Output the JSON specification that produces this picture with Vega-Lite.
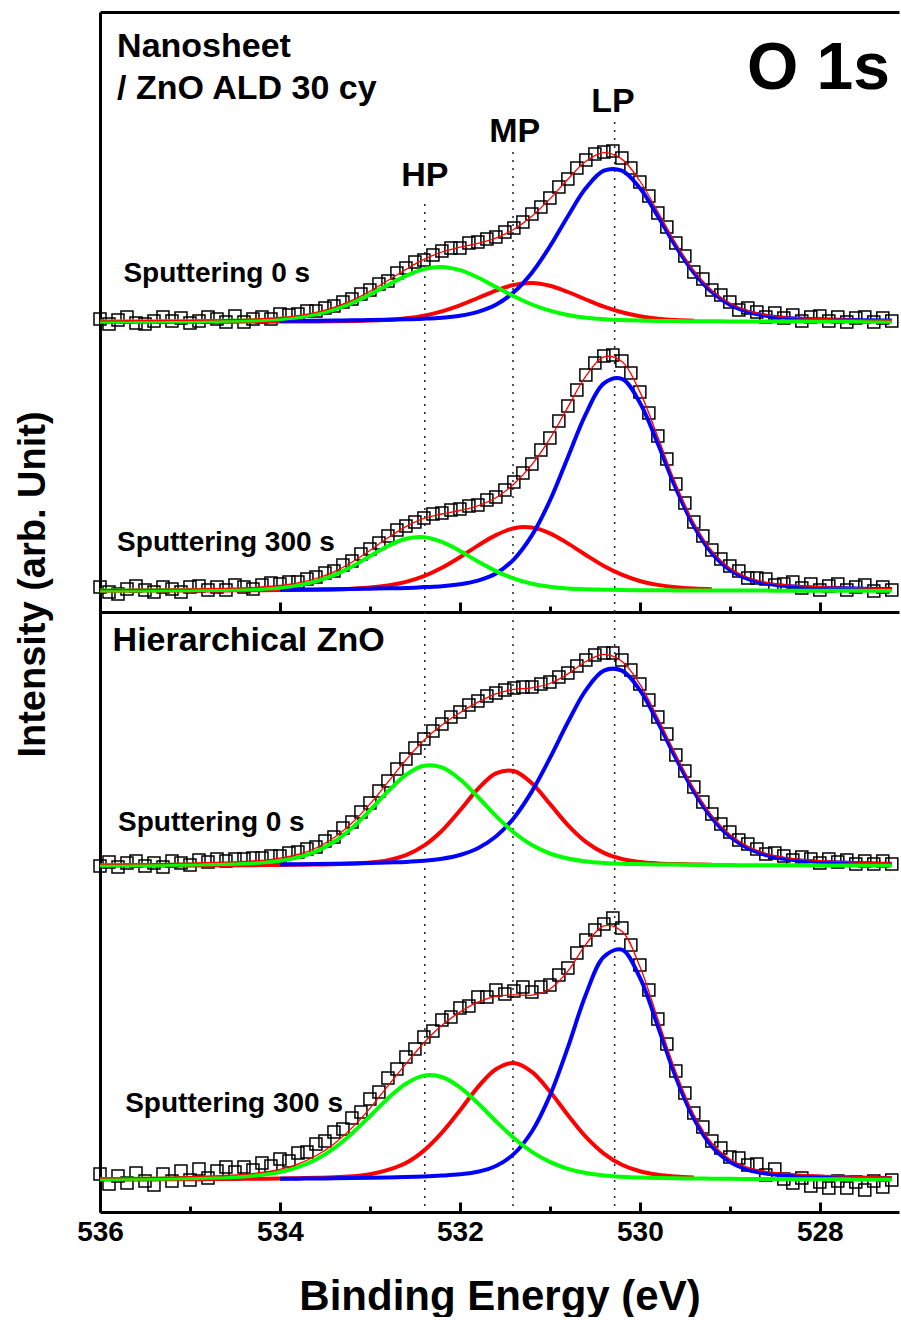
{
  "$schema": "https://vega.github.io/schema/vega-lite/v6.json",
  "background": "white",
  "padding": {"left": 14, "top": 12, "right": 0, "bottom": 0},
  "spacing": 0,
  "bounds": "flush",
  "config": {
    "view": {"stroke": null},
    "axis": {"grid": false},
    "font": "Liberation Sans"
  },
  "datasets": {
    "comp": [
      {"s": "A",
       "E": [536,535.8,535.6,535.4,535.2,535,534.8,534.6,534.4,534.2,534,533.8,533.6,533.4,533.2,533,532.8,532.6,532.4,532.2,532,531.8,531.6,531.4,531.2,531,530.8,530.6,530.4,530.2,530,529.8,529.6,529.4,529.2,529,528.8,528.6,528.4,528.2,528,527.8,527.6,527.4,527.2],
       "HP": [290.5,290.5,290.6,290.6,290.7,290.8,291,291.2,291.5,292,293,294.7,297.7,302.4,309,317.5,327.1,336.2,342.9,345,341.8,334.5,325.1,315.7,307.5,301.3,297,294.3,292.8,291.9,291.4,291.1,290.9,290.8,290.7,290.6,290.5,290.5,290.5,290.4,290.4,290.4,290.4,290.3,290.3],
       "MP": [290.2,290.2,290.2,290.2,290.2,290.3,290.3,290.3,290.4,290.4,290.5,290.5,290.6,290.8,291,291.4,292.2,293.7,296.4,300.7,306.7,314,321.4,327.1,329,326.2,320,312.5,305.3,299.7,295.7,293.3,292,291.3,null,null,null,null,null,null,null,null,null,null,null],
       "LP": [null,null,null,null,null,null,null,null,null,null,291.1,291.2,291.3,291.5,291.7,291.9,292.2,292.7,293.3,294.3,296.3,300.2,307.3,319.9,339.3,365.6,395.8,423.9,441.3,441.3,423.9,395.8,365.6,339.3,319.9,307.3,300.2,296.3,294.3,293.3,292.7,292.2,291.9,291.7,291.5],
       "Fit": [291.1,291.2,291.3,291.4,291.6,291.7,292,292.3,292.7,293.3,294.5,296.4,299.6,304.7,311.7,320.8,331.5,342.6,352.6,360,364.8,368.7,373.8,382.7,395.8,413.1,432.8,450.7,459.4,452.9,431,400.2,368.5,341.4,321.5,308.7,301.3,297.3,295.2,294.1,293.5,292.9,292.6,292.2,292]},
      {"s": "B",
       "E": [536,535.8,535.6,535.4,535.2,535,534.8,534.6,534.4,534.2,534,533.8,533.6,533.4,533.2,533,532.8,532.6,532.4,532.2,532,531.8,531.6,531.4,531.2,531,530.8,530.6,530.4,530.2,530,529.8,529.6,529.4,529.2,529,528.8,528.6,528.4,528.2,528,527.8,527.6,527.4,527.2],
       "HP": [21.4,21.5,21.5,21.6,21.7,21.8,21.9,22.1,22.4,23.1,24.3,26.6,30.6,36.8,45.5,55.8,66,73.2,74.8,70.1,61.1,50.5,40.9,33.4,28.3,25.3,23.5,22.7,22.3,22,21.8,21.7,21.6,21.5,21.5,21.4,21.4,21.4,21.3,21.3,21.3,21.3,21.3,21.2,21.2],
       "MP": [21.3,21.3,21.4,21.4,21.5,21.5,21.6,21.6,21.7,21.8,21.9,22.1,22.3,22.6,23.3,24.4,26.5,30.1,35.9,44.2,54.7,66.4,76.9,83.8,84.4,78.7,68.6,57,46.1,37.4,31,27.1,24.7,23.4,22.7,null,null,null,null,null,null,null,null,null,null],
       "LP": [null,null,null,null,null,null,null,null,null,null,22.2,22.4,22.6,22.8,23,23.3,23.7,24.1,24.9,25.7,27.7,31.3,38.5,52.7,76.6,111.3,154.8,198.2,228.7,233.1,209.3,168.2,123.7,86.1,58.9,42.2,33,28.4,26.2,25.1,24.3,23.9,23.4,23.1,22.9],
       "Fit": [22.3,22.4,22.5,22.7,22.8,23,23.3,23.7,24.1,25,26.5,29.1,33.5,40.2,49.8,61.5,74.2,85.4,93.6,98,101.5,106.2,114.3,127.9,147.3,173.3,204.9,235.9,255.1,250.5,220.1,175,128,89,61.1,43.9,34.5,29.7,27.4,26.2,25.3,24.8,24.3,23.9,23.6]},
      {"s": "C",
       "E": [536,535.8,535.6,535.4,535.2,535,534.8,534.6,534.4,534.2,534,533.8,533.6,533.4,533.2,533,532.8,532.6,532.4,532.2,532,531.8,531.6,531.4,531.2,531,530.8,530.6,530.4,530.2,530,529.8,529.6,529.4,529.2,529,528.8,528.6,528.4,528.2,528,527.8,527.6,527.4,527.2],
       "HP": [346.8,346.9,347,347.1,347.2,347.4,347.7,348,348.5,349.4,351.3,354.6,360.6,370.2,384.1,401.6,420.6,437.1,446.3,444.6,432.7,415,396.1,379.5,366.9,358.5,353.5,350.5,349.1,348.3,347.9,347.6,347.4,347.2,347,346.9,346.8,346.8,346.7,346.7,346.6,346.6,346.5,346.5,346.5],
       "MP": [346.3,346.4,346.4,346.4,346.5,346.5,346.6,346.7,346.8,346.9,347,347.2,347.4,347.8,348.4,349.4,351.8,356.8,366.3,381.3,401.5,423,438.6,441,428.7,408.1,386.9,370.1,359.1,353,350,348.6,347.9,347.5,347.3,null,null,null,null,null,null,null,null,null,null],
       "LP": [null,null,null,null,null,null,null,null,null,null,347.6,347.7,347.9,348.2,348.5,348.9,349.5,350.1,351.2,353.2,357,363.8,375.5,394.1,420.6,453.9,489.7,521.9,541.4,541.4,521.9,489.7,453.9,420.6,394.1,375.5,363.8,357,353.2,351.2,350.1,349.5,348.9,348.5,348.2],
       "Fit": [347.8,347.9,348.1,348.3,348.6,348.9,349.3,349.9,350.6,351.7,353.9,357.5,364,374.2,389,407.9,429.9,452,471.8,487.1,499.2,509.8,518.2,522.6,524.2,528.5,538.1,550.5,557.6,550.7,527.8,493.9,457.2,423.3,396.4,377.6,365.6,358.7,354.7,352.6,351.4,350.7,350,349.5,349.1]},
      {"s": "D",
       "E": [536,535.8,535.6,535.4,535.2,535,534.8,534.6,534.4,534.2,534,533.8,533.6,533.4,533.2,533,532.8,532.6,532.4,532.2,532,531.8,531.6,531.4,531.2,531,530.8,530.6,530.4,530.2,530,529.8,529.6,529.4,529.2,529,528.8,528.6,528.4,528.2,528,527.8,527.6,527.4,527.2],
       "HP": [33,33.1,33.2,33.3,33.5,33.8,34.2,34.7,35.5,37.2,40,44.8,52.5,63.7,78.5,95.8,113.6,128.3,136.4,135,124.7,108.8,90.8,74,60.2,50.1,43.2,39,36.6,35.3,34.5,34,33.7,33.5,33.3,33.2,33,33,32.9,32.8,32.7,32.7,32.6,32.6,32.6],
       "MP": [32.5,32.6,32.6,32.6,32.7,32.8,32.9,33,33.2,33.3,33.5,33.8,34.2,34.7,35.7,37.7,42.1,49,61.4,79.3,101.5,124.9,142.8,149,140.1,120.5,96.9,75.1,58.4,47.2,40.7,37.2,35.5,34.6,null,null,null,null,null,null,null,null,null,null,null],
       "LP": [null,null,null,null,null,null,null,null,null,null,33.2,33.3,33.5,33.7,33.9,34.2,34.5,34.9,35.5,36.4,37.7,40.2,46,58.1,80.5,116.4,164.7,217.6,255.2,262.3,234.3,185.8,134.8,93.5,65.6,50.1,42.2,38.5,36.8,35.8,35.2,34.7,34.3,34,33.8],
       "Fit": [34,34.2,34.4,34.6,34.9,35.3,35.9,36.5,37.6,39.6,42.7,47.9,56.2,68.1,84.1,103.7,126.2,148.2,169.3,186.7,199.9,209.9,215.6,217.1,216.8,223,240.8,267.7,286.2,280.8,245.5,193,140,97.5,69,53,44.7,40.7,38.8,37.6,36.8,36.2,35.7,35.3,35]}
    ],
    "raw": [
      {"s": "A",
       "E": [536,535.9,535.8,535.7,535.6,535.5,535.4,535.3,535.2,535.1,535,534.9,534.8,534.7,534.6,534.5,534.4,534.3,534.2,534.1,534,533.9,533.8,533.7,533.6,533.5,533.4,533.3,533.2,533.1,533,532.9,532.8,532.7,532.6,532.5,532.4,532.3,532.2,532.1,532,531.9,531.8,531.7,531.6,531.5,531.4,531.3,531.2,531.1,531,530.9,530.8,530.7,530.6,530.5,530.4,530.3,530.2,530.1,530,529.9,529.8,529.7,529.6,529.5,529.4,529.3,529.2,529.1,529,528.9,528.8,528.7,528.6,528.5,528.4,528.3,528.2,528.1,528,527.9,527.8,527.7,527.6,527.5,527.4,527.3,527.2],
       "v": [293,288,292,295,289,288,291,295,291,294,289,291,295,293,290,296,290,293,295,293,298,297,298,301,301,304,306,310,313,318,322,328,331,339,344,350,352,357,361,364,364,369,370,373,375,380,384,390,398,405,414,425,433,444,452,458,460,461,454,444,430,416,399,385,369,356,340,333,322,317,310,302,304,300,295,299,294,297,291,295,296,291,295,290,294,295,290,294,291]},
      {"s": "B",
       "E": [536,535.9,535.8,535.7,535.6,535.5,535.4,535.3,535.2,535.1,535,534.9,534.8,534.7,534.6,534.5,534.4,534.3,534.2,534.1,534,533.9,533.8,533.7,533.6,533.5,533.4,533.3,533.2,533.1,533,532.9,532.8,532.7,532.6,532.5,532.4,532.3,532.2,532.1,532,531.9,531.8,531.7,531.6,531.5,531.4,531.3,531.2,531.1,531,530.9,530.8,530.7,530.6,530.5,530.4,530.3,530.2,530.1,530,529.9,529.8,529.7,529.6,529.5,529.4,529.3,529.2,529.1,529,528.9,528.8,528.7,528.6,528.5,528.4,528.3,528.2,528.1,528,527.9,527.8,527.7,527.6,527.5,527.4,527.3,527.2],
       "v": [25,20,18,23,26,22,20,25,23,20,25,26,22,25,22,27,25,23,27,29,28,30,30,33,35,39,41,47,51,58,63,69,76,82,86,90,94,98,99,102,103,106,107,112,115,122,130,139,148,162,174,191,206,222,237,249,256,257,251,239,220,199,176,153,128,109,90,76,62,53,46,41,34,34,33,27,28,30,24,28,22,26,28,22,25,27,21,25,22]},
      {"s": "C",
       "E": [536,535.9,535.8,535.7,535.6,535.5,535.4,535.3,535.2,535.1,535,534.9,534.8,534.7,534.6,534.5,534.4,534.3,534.2,534.1,534,533.9,533.8,533.7,533.6,533.5,533.4,533.3,533.2,533.1,533,532.9,532.8,532.7,532.6,532.5,532.4,532.3,532.2,532.1,532,531.9,531.8,531.7,531.6,531.5,531.4,531.3,531.2,531.1,531,530.9,530.8,530.7,530.6,530.5,530.4,530.3,530.2,530.1,530,529.9,529.8,529.7,529.6,529.5,529.4,529.3,529.2,529.1,529,528.9,528.8,528.7,528.6,528.5,528.4,528.3,528.2,528.1,528,527.9,527.8,527.7,527.6,527.5,527.4,527.3,527.2],
       "v": [346,350,345,349,351,346,349,345,351,349,347,352,350,353,351,353,353,354,354,356,356,359,360,363,365,371,375,384,390,400,409,421,431,443,453,464,473,481,488,495,500,507,511,516,519,522,524,525,525,528,530,535,539,546,552,557,559,559,552,542,528,512,495,478,457,441,425,410,398,388,380,372,368,363,358,359,356,352,355,353,349,353,350,352,348,351,348,351,348]},
      {"s": "D",
       "E": [536,535.9,535.8,535.7,535.6,535.5,535.4,535.3,535.2,535.1,535,534.9,534.8,534.7,534.6,534.5,534.4,534.3,534.2,534.1,534,533.9,533.8,533.7,533.6,533.5,533.4,533.3,533.2,533.1,533,532.9,532.8,532.7,532.6,532.5,532.4,532.3,532.2,532.1,532,531.9,531.8,531.7,531.6,531.5,531.4,531.3,531.2,531.1,531,530.9,530.8,530.7,530.6,530.5,530.4,530.3,530.2,530.1,530,529.9,529.8,529.7,529.6,529.5,529.4,529.3,529.2,529.1,529,528.9,528.8,528.7,528.6,528.5,528.4,528.3,528.2,528.1,528,527.9,527.8,527.7,527.6,527.5,527.4,527.3,527.2],
       "v": [38,28,36,29,39,31,27,38,31,41,32,43,34,41,45,40,45,42,49,46,53,51,59,60,68,71,80,83,94,100,113,120,134,143,155,163,175,181,192,195,204,206,215,215,222,218,221,225,220,225,227,237,244,259,272,282,288,294,284,267,247,222,193,168,141,119,99,85,71,64,55,54,47,48,37,43,33,29,34,26,30,24,31,24,30,22,31,25,32]}
    ]
  },
  "vconcat": [
    {
      "width": 799,
      "height": 600,
      "resolve": {"axis": {"x": "independent", "y": "independent"}},
      "layer": [
        {
          "data": {"values": [{"p": "HP", "E": 532.39, "top": 408}, {"p": "MP", "E": 531.41, "top": 460}, {"p": "LP", "E": 530.28, "top": 490}]},
          "mark": {"type": "rule", "strokeDash": [2, 6], "strokeWidth": 1.5, "color": "#222222"},
          "encoding": {
            "x": {"field": "E", "type": "quantitative", "scale": {"domain": [527.12, 536], "reverse": true, "nice": false, "zero": false},
                  "axis": {"orient": "top", "domain": true, "domainWidth": 3, "domainColor": "black", "ticks": false, "labels": false, "title": null}},
            "y": {"field": "top", "type": "quantitative", "scale": {"domain": [0, 600], "nice": false, "zero": false},
                  "axis": {"orient": "left", "domain": true, "domainWidth": 3, "domainColor": "black", "ticks": false, "labels": false,
                           "title": "Intensity (arb. Unit)", "titleFont": "Liberation Sans", "titleFontSize": 38, "titleFontWeight": "bold", "titleColor": "black",
                           "titleX": -48, "titleY": 572, "titleAngle": -90, "titleAlign": "center", "titleBaseline": "bottom"}},
            "y2": {"datum": 0}
          }
        },
        {
          "data": {"name": "raw"},
          "transform": [{"filter": {"field": "s", "oneOf": ["A", "B"]}}, {"flatten": ["E", "v"]}],
          "mark": {"type": "point", "shape": "square", "filled": false, "size": 144, "strokeWidth": 1.5, "color": "black", "opacity": 1},
          "encoding": {
            "x": {"field": "E", "type": "quantitative", "scale": {"domain": [527.12, 536], "reverse": true, "nice": false, "zero": false},
                  "axis": {"orient": "bottom", "domain": true, "domainWidth": 3, "domainColor": "black", "values": [536, 534, 532, 530, 528], "ticks": true, "tickSize": -10, "tickWidth": 3, "tickColor": "black", "labels": false, "title": null}},
            "y": {"field": "v", "type": "quantitative", "axis": null}
          }
        },
        {
          "data": {"name": "comp"},
          "transform": [{"filter": {"field": "s", "oneOf": ["A", "B"]}}, {"flatten": ["E", "HP", "MP", "LP", "Fit"]}, {"fold": ["MP", "LP", "HP"], "as": ["comp", "val"]}],
          "mark": {"type": "line", "strokeWidth": 4, "interpolate": "catmull-rom"},
          "encoding": {
            "x": {"field": "E", "type": "quantitative", "scale": {"domain": [527.12, 536], "reverse": true, "nice": false, "zero": false},
                  "axis": {"orient": "bottom", "domain": false, "values": [535, 533, 531, 529], "ticks": true, "tickSize": -6, "tickWidth": 3, "tickColor": "black", "labels": false, "title": null}},
            "y": {"field": "val", "type": "quantitative", "axis": null},
            "color": {"field": "comp", "type": "nominal", "scale": {"domain": ["MP", "LP", "HP"], "range": ["#ff0000", "#0000ff", "#00ff00"]}, "legend": null},
            "detail": {"field": "s"}
          }
        },
        {
          "data": {"name": "comp"},
          "transform": [{"filter": {"field": "s", "oneOf": ["A", "B"]}}, {"flatten": ["E", "HP", "MP", "LP", "Fit"]}],
          "mark": {"type": "line", "strokeWidth": 1.3, "color": "#ff0000", "interpolate": "catmull-rom"},
          "encoding": {
            "x": {"field": "E", "type": "quantitative", "axis": null},
            "y": {"field": "Fit", "type": "quantitative", "axis": null},
            "detail": {"field": "s"}
          }
        },
        {
          "data": {"values": [{"t": "Nanosheet", "E": 535.81, "y": 555}, {"t": "/ ZnO ALD 30 cy", "E": 535.81, "y": 513}]},
          "mark": {"type": "text", "align": "left", "baseline": "alphabetic", "font": "Liberation Sans", "fontWeight": "bold", "fontSize": 34, "color": "black"},
          "encoding": {"x": {"field": "E", "type": "quantitative", "axis": null}, "y": {"field": "y", "type": "quantitative", "axis": null}, "text": {"field": "t"}}
        },
        {
          "data": {"values": [{"t": "HP", "E": 532.39, "y": 426}, {"t": "MP", "E": 531.39, "y": 470}, {"t": "LP", "E": 530.3, "y": 500}]},
          "mark": {"type": "text", "align": "center", "baseline": "alphabetic", "font": "Liberation Sans", "fontWeight": "bold", "fontSize": 34, "color": "black"},
          "encoding": {"x": {"field": "E", "type": "quantitative", "axis": null}, "y": {"field": "y", "type": "quantitative", "axis": null}, "text": {"field": "t"}}
        },
        {
          "data": {"values": [{"t": "O 1s", "E": 528.81, "y": 523}]},
          "mark": {"type": "text", "align": "left", "baseline": "alphabetic", "font": "Liberation Sans", "fontWeight": "bold", "fontSize": 66, "color": "black"},
          "encoding": {"x": {"field": "E", "type": "quantitative", "axis": null}, "y": {"field": "y", "type": "quantitative", "axis": null}, "text": {"field": "t"}}
        },
        {
          "data": {"values": [{"t": "Sputtering 0 s", "E": 535.74, "y": 330}, {"t": "Sputtering 300 s", "E": 535.81, "y": 61}]},
          "mark": {"type": "text", "align": "left", "baseline": "alphabetic", "font": "Liberation Sans", "fontWeight": "bold", "fontSize": 28, "color": "black"},
          "encoding": {"x": {"field": "E", "type": "quantitative", "axis": null}, "y": {"field": "y", "type": "quantitative", "axis": null}, "text": {"field": "t"}}
        }
      ]
    },
    {
      "width": 799,
      "height": 600,
      "resolve": {"axis": {"x": "independent", "y": "independent"}},
      "layer": [
        {
          "data": {"values": [{"p": "HP", "E": 532.39}, {"p": "MP", "E": 531.41}, {"p": "LP", "E": 530.28}]},
          "mark": {"type": "rule", "strokeDash": [2, 6], "strokeWidth": 1.5, "color": "#222222"},
          "encoding": {
            "x": {"field": "E", "type": "quantitative", "scale": {"domain": [527.12, 536], "reverse": true, "nice": false, "zero": false},
                  "axis": {"orient": "bottom", "domain": true, "domainWidth": 3, "domainColor": "black", "values": [536, 534, 532, 530, 528], "format": "d", "ticks": false,
                           "labels": true, "labelFont": "Liberation Sans", "labelFontSize": 28, "labelFontWeight": "bold", "labelColor": "black", "labelPadding": 6, "labelFlush": false, "labelOverlap": false,
                           "title": "Binding Energy (eV)", "titleFont": "Liberation Sans", "titleFontSize": 42, "titleFontWeight": "bold", "titleColor": "black", "titlePadding": 30}}
          }
        },
        {
          "data": {"name": "raw"},
          "transform": [{"filter": {"field": "s", "oneOf": ["C", "D"]}}, {"flatten": ["E", "v"]}],
          "mark": {"type": "point", "shape": "square", "filled": false, "size": 144, "strokeWidth": 1.5, "color": "black", "opacity": 1},
          "encoding": {
            "x": {"field": "E", "type": "quantitative", "scale": {"domain": [527.12, 536], "reverse": true, "nice": false, "zero": false},
                  "axis": {"orient": "bottom", "domain": false, "values": [536, 534, 532, 530, 528], "ticks": true, "tickSize": -10, "tickWidth": 3, "tickColor": "black", "labels": false, "title": null}},
            "y": {"field": "v", "type": "quantitative", "scale": {"domain": [0, 600], "nice": false, "zero": false},
                  "axis": {"orient": "left", "domain": true, "domainWidth": 3, "domainColor": "black", "ticks": false, "labels": false, "title": null}}
          }
        },
        {
          "data": {"name": "comp"},
          "transform": [{"filter": {"field": "s", "oneOf": ["C", "D"]}}, {"flatten": ["E", "HP", "MP", "LP", "Fit"]}, {"fold": ["MP", "LP", "HP"], "as": ["comp", "val"]}],
          "mark": {"type": "line", "strokeWidth": 4, "interpolate": "catmull-rom"},
          "encoding": {
            "x": {"field": "E", "type": "quantitative", "scale": {"domain": [527.12, 536], "reverse": true, "nice": false, "zero": false},
                  "axis": {"orient": "bottom", "domain": false, "values": [535, 533, 531, 529], "ticks": true, "tickSize": -6, "tickWidth": 3, "tickColor": "black", "labels": false, "title": null}},
            "y": {"field": "val", "type": "quantitative", "axis": null},
            "color": {"field": "comp", "type": "nominal", "scale": {"domain": ["MP", "LP", "HP"], "range": ["#ff0000", "#0000ff", "#00ff00"]}, "legend": null},
            "detail": {"field": "s"}
          }
        },
        {
          "data": {"name": "comp"},
          "transform": [{"filter": {"field": "s", "oneOf": ["C", "D"]}}, {"flatten": ["E", "HP", "MP", "LP", "Fit"]}],
          "mark": {"type": "line", "strokeWidth": 1.3, "color": "#ff0000", "interpolate": "catmull-rom"},
          "encoding": {
            "x": {"field": "E", "type": "quantitative", "axis": null},
            "y": {"field": "Fit", "type": "quantitative", "axis": null},
            "detail": {"field": "s"}
          }
        },
        {
          "data": {"values": [{"t": "Hierarchical ZnO", "E": 535.86, "y": 561}]},
          "mark": {"type": "text", "align": "left", "baseline": "alphabetic", "font": "Liberation Sans", "fontWeight": "bold", "fontSize": 34, "color": "black"},
          "encoding": {"x": {"field": "E", "type": "quantitative", "axis": null}, "y": {"field": "y", "type": "quantitative", "axis": null}, "text": {"field": "t"}}
        },
        {
          "data": {"values": [{"t": "Sputtering 0 s", "E": 535.8, "y": 381}, {"t": "Sputtering 300 s", "E": 535.72, "y": 100}]},
          "mark": {"type": "text", "align": "left", "baseline": "alphabetic", "font": "Liberation Sans", "fontWeight": "bold", "fontSize": 28, "color": "black"},
          "encoding": {"x": {"field": "E", "type": "quantitative", "axis": null}, "y": {"field": "y", "type": "quantitative", "axis": null}, "text": {"field": "t"}}
        }
      ]
    }
  ]
}
